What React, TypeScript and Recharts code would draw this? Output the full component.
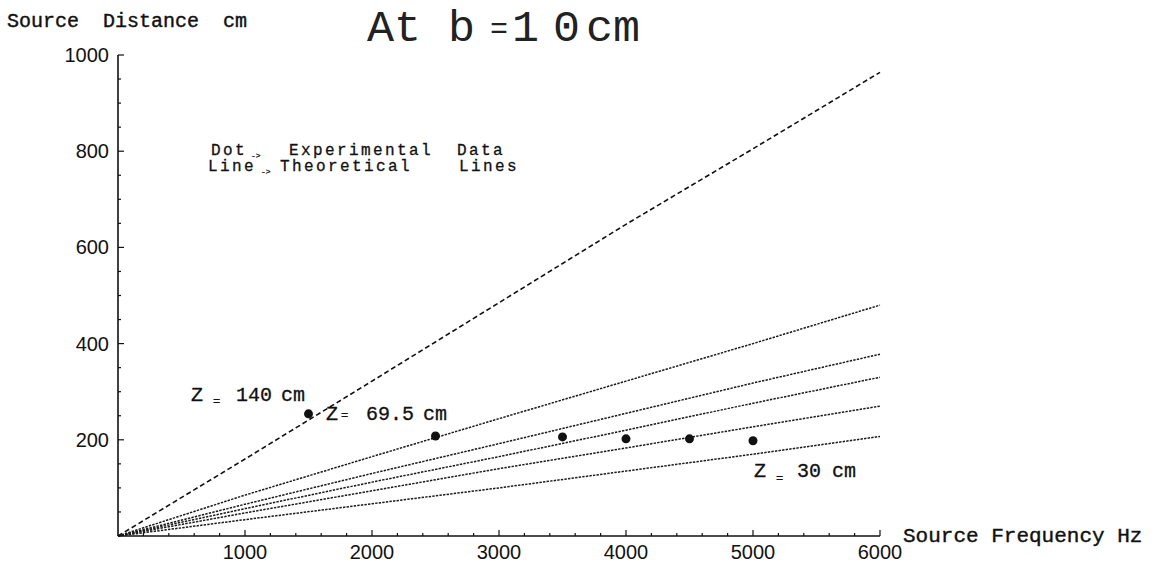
import { ComposedChart, Line, Scatter, XAxis, YAxis } from 'recharts';

// theoretical lines, sampled every 1000 Hz
const freqs = [0, 1000, 2000, 3000, 4000, 5000, 6000];
const z140 = [0, 160, 322, 485, 648, 805, 964];
const lineA = [0, 85, 165, 244, 322, 400, 480];
const lineB = [0, 66, 130, 192, 255, 318, 378];
const lineC = [0, 57, 112, 165, 220, 276, 330];
const lineD = [0, 48, 94, 140, 183, 227, 270];
const z30 = [0, 34, 67, 100, 135, 170, 207];

// experimental dots
const expFreq = [1500, 2500, 3500, 4000, 4500, 5000];
const expDist = [254, 208, 206, 202, 202, 198];

const xTicks = [0, 200, 400, 600, 800, 1000, 1200, 1400, 1600, 1800, 2000, 2200, 2400, 2600, 2800, 3000, 3200, 3400, 3600, 3800, 4000, 4200, 4400, 4600, 4800, 5000, 5200, 5400, 5600, 5800, 6000];
const yTicks = [0, 50, 100, 150, 200, 250, 300, 350, 400, 450, 500, 550, 600, 650, 700, 750, 800, 850, 900, 950, 1000];

const lineRows = freqs.map((f, i) => ({
  f,
  z140: z140[i],
  a: lineA[i],
  b: lineB[i],
  c: lineC[i],
  d: lineD[i],
  z30: z30[i],
}));
const expRows = expFreq.map((f, i) => ({ f, dist: expDist[i] }));

const mono = '"Liberation Mono", "DejaVu Sans Mono", monospace';
const sans = '"Liberation Sans", Arial, sans-serif';
const M = 8; // tickMargin used on both axes

const XTick = (props: any) => {
  const { x, y, payload } = props;
  const v = payload.value;
  const axisY = y - M;
  const major = v % 1000 === 0;
  return (
    <g>
      {v !== 0 && (
        <line x1={x} x2={x} y1={axisY} y2={axisY - (major ? 6 : 3)} stroke="#111" strokeWidth={1.2} />
      )}
      {major && v !== 0 && (
        <text x={x} y={axisY + 23} textAnchor="middle" fontFamily={sans} fontSize={20} fill="#111">
          {v}
        </text>
      )}
    </g>
  );
};

const YTick = (props: any) => {
  const { x, y, payload } = props;
  const v = payload.value;
  const axisX = x + M;
  const major = v % 200 === 0;
  return (
    <g>
      {v !== 0 && (
        <line x1={axisX} x2={axisX + (major ? 6 : 3)} y1={y} y2={y} stroke="#111" strokeWidth={1.2} />
      )}
      {major && v !== 0 && (
        <text x={x - 1} y={y + 7} textAnchor="end" fontFamily={sans} fontSize={20} fill="#111">
          {v}
        </text>
      )}
    </g>
  );
};

const Dot = (props: any) => <circle cx={props.cx} cy={props.cy} r={4.5} fill="#111" />;

export default function App() {
  const dotted = { stroke: '#1a1a1a', strokeWidth: 1.5, strokeDasharray: '2.4 1.2' };
  return (
    <div style={{ position: 'absolute', left: 0, top: 0, width: 1158, height: 575, background: '#fff' }}>
      <ComposedChart
        width={1158}
        height={575}
        data={lineRows}
        margin={{ top: 55, right: 278, bottom: 9, left: 58 }}
      >
        <XAxis
          dataKey="f"
          type="number"
          domain={[0, 6000]}
          ticks={xTicks}
          interval={0}
          tickSize={0}
          tickMargin={M}
          tick={<XTick />}
          height={30}
          axisLine={{ stroke: '#111', strokeWidth: 1.6 }}
          tickLine={false}
        />
        <YAxis
          type="number"
          domain={[0, 1000]}
          ticks={yTicks}
          interval={0}
          tickSize={0}
          tickMargin={M}
          tick={<YTick />}
          width={60}
          axisLine={{ stroke: '#111', strokeWidth: 1.6 }}
          tickLine={false}
        />
        <Line dataKey="z140" stroke="#111" strokeWidth={1.6} strokeDasharray="5 3" dot={false} isAnimationActive={false} />
        <Line dataKey="a" {...dotted} dot={false} isAnimationActive={false} />
        <Line dataKey="b" {...dotted} dot={false} isAnimationActive={false} />
        <Line dataKey="c" {...dotted} dot={false} isAnimationActive={false} />
        <Line dataKey="d" {...dotted} dot={false} isAnimationActive={false} />
        <Line dataKey="z30" {...dotted} dot={false} isAnimationActive={false} />
        <Scatter data={expRows} dataKey="dist" shape={<Dot />} isAnimationActive={false} />

        <g fontFamily={mono} fill="#111" stroke="#111" strokeWidth={0.4}>
          <text x={7} y={27} fontSize={20} style={{ whiteSpace: 'pre' }}>
            {'Source  Distance  cm'}
          </text>
          <text x={903} y={542} fontSize={21}>
            Source Frequency Hz
          </text>
        </g>

        <g fontFamily={mono} fill="#222">
          <text x={367} y={41} fontSize={45}>At b</text>
          <text x={490} y={38} fontSize={30}>=</text>
          <text x={512} y={41} fontSize={45}>1</text>
          <text x={553} y={41} fontSize={45}>0</text>
          <text x={586} y={41} fontSize={45}>cm</text>
        </g>

        <g fontFamily={mono} fill="#111" stroke="#111" strokeWidth={0.3} fontSize={16} letterSpacing={2.4}>
          <text x={211} y={155}>Dot</text>
          <text x={251} y={158} fontSize={8} letterSpacing={0}>{'->'}</text>
          <text x={289} y={155}>Experimental</text>
          <text x={457} y={155}>Data</text>
          <text x={208} y={171}>Line</text>
          <text x={261} y={174} fontSize={8} letterSpacing={0}>{'->'}</text>
          <text x={280} y={171}>Theoretical</text>
          <text x={459} y={171}>Lines</text>
        </g>

        <g fontFamily={mono} fill="#111" stroke="#111" strokeWidth={0.3} fontSize={20}>
          <text x={191} y={401}>Z</text>
          <text x={213} y={405} fontSize={12}>=</text>
          <text x={236} y={401}>140</text>
          <text x={281} y={401}>cm</text>

          <text x={326} y={420}>Z</text>
          <text x={341} y={419} fontSize={12}>=</text>
          <text x={366} y={420}>69.5</text>
          <text x={423} y={420}>cm</text>

          <text x={754} y={477}>Z</text>
          <text x={776} y={482} fontSize={12}>=</text>
          <text x={797} y={477}>30</text>
          <text x={832} y={477}>cm</text>
        </g>
      </ComposedChart>
    </div>
  );
}
